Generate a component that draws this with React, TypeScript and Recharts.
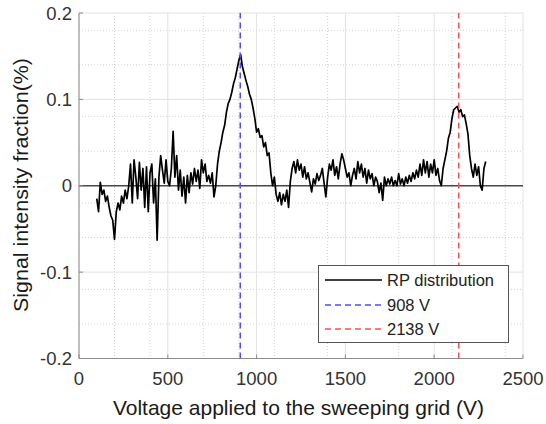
import { LineChart, Line, XAxis, YAxis, CartesianGrid, ReferenceLine, Legend } from "recharts";

// sampling grid of the sweep (V)
const VOLTAGE_START = 100;
const VOLTAGE_STEP = 10;

// signal intensity fraction (%), one value per 10 V from 100 V to 2290 V
const RP_FRACTION = [
  -0.015, -0.03, 0.004, -0.01, -0.005, -0.018, -0.012, -0.025, -0.035, -0.04,
  -0.062, -0.03, -0.02, -0.028, -0.012, -0.02, -0.005, -0.015, 0.0, 0.025,
  -0.02, 0.03, 0.01, -0.015, 0.027, -0.005, 0.02, -0.025, 0.022, -0.03,
  0.015, 0.025, -0.02, 0.008, -0.063, 0.01, 0.035, 0.018, 0.003, 0.03,
  0.005, 0.0, 0.02, 0.063, 0.01, 0.035, -0.005, 0.018, -0.012, 0.01,
  -0.02, 0.012, -0.008, 0.015, 0.002, 0.02, 0.005, 0.018, -0.003, 0.03,
  0.015, 0.025, 0.005, 0.012, 0.003, 0.015, -0.013, 0.0, 0.025, 0.04,
  0.05, 0.062, 0.07, 0.085, 0.095, 0.1, 0.108, 0.118, 0.125, 0.135,
  0.145, 0.152, 0.138, 0.13, 0.122, 0.115, 0.106, 0.1, 0.09, 0.078,
  0.062, 0.066, 0.056, 0.058, 0.045, 0.05, 0.035, 0.038, 0.015, 0.0,
  0.01, -0.01, -0.018, -0.008, -0.022, -0.01, -0.018, -0.005, -0.025, 0.005,
  0.02, 0.028, 0.015, 0.03, 0.018, 0.025, 0.01, 0.022, 0.008, 0.015,
  0.004, -0.007, 0.008, 0.002, 0.014, 0.006, 0.012, 0.02, 0.003, -0.013,
  0.01, 0.025, 0.018, 0.03, 0.012, 0.022, 0.008, 0.025, 0.037, 0.03,
  0.02, 0.01, 0.015, 0.0, 0.012, 0.02, 0.008, 0.028, 0.015, 0.025,
  0.01, 0.02, 0.003, 0.018, 0.008, 0.014, 0.0, 0.01, 0.005, -0.008,
  0.003, -0.017, 0.01, 0.0, 0.008, 0.002, 0.01, 0.0, 0.006, 0.0,
  0.014, 0.002, 0.008, 0.0, 0.01, 0.003, 0.012, 0.005, 0.015, 0.008,
  0.018, 0.01, 0.025, 0.012, 0.03, 0.015, 0.028, 0.01, 0.025, 0.015,
  0.03, 0.012, 0.02, 0.006, 0.0, 0.02, 0.03, 0.04, 0.055, 0.062,
  0.078, 0.088, 0.09, 0.092, 0.085, 0.088, 0.08, 0.082, 0.072, 0.06,
  0.035, 0.02, 0.01, 0.025, 0.012, 0.022, 0.0, -0.005, 0.02, 0.028,
];

const PEAK_VOLTAGES = [908, 2138];
const X_TICKS = [0, 500, 1000, 1500, 2000, 2500];
const Y_TICKS = [-0.2, -0.1, 0, 0.1, 0.2];
const LEGEND_LABELS = ["RP distribution", "908 V", "2138 V"];

const X_TITLE = "Voltage applied to the sweeping grid (V)";
const Y_TITLE = "Signal intensity fraction(%)";

const FONT = "'Liberation Sans', Arial, sans-serif";
const PEAK_COLORS = ["#4d4dff", "#ff4d4d"];
const BOX = "#8c8c8c";

const data = RP_FRACTION.map((v, i) => ({ voltage: VOLTAGE_START + i * VOLTAGE_STEP, fraction: v }));

// minor grid every 100 V / 0.02
const minorX = Array.from({ length: 26 }, (_, i) => i * 100).filter((v) => v % 500 !== 0);
const minorY = Array.from({ length: 21 }, (_, i) => Math.round((-0.2 + i * 0.02) * 100) / 100).filter(
  (v) => Math.abs(Math.round(v * 10) - v * 10) > 1e-6
);

const tickStyle = { fontSize: 18.5, fill: "#333", fontFamily: FONT };

function LegendBox() {
  const styles = [
    { color: "#000", dash: undefined },
    { color: PEAK_COLORS[0], dash: "6 4" },
    { color: PEAK_COLORS[1], dash: "6 4" },
  ];
  return (
    <div
      style={{
        position: "relative",
        width: 191,
        height: 78,
        boxSizing: "border-box",
        border: "1.2px solid #555",
        background: "#fff",
        fontFamily: FONT,
      }}
    >
      {LEGEND_LABELS.map((label, i) => (
        <div key={label} style={{ position: "absolute", left: 0, top: 2 + i * 24.5, height: 24, width: 191 }}>
          <svg width={60} height={24} style={{ position: "absolute", left: 6, top: 0 }}>
            <line x1={0} x2={57} y1={12} y2={12} stroke={styles[i].color} strokeWidth={1.4} strokeDasharray={styles[i].dash} />
          </svg>
          <span style={{ position: "absolute", left: 68, top: 0, lineHeight: "24px", fontSize: 16.5, color: "#222", whiteSpace: "nowrap" }}>
            {label}
          </span>
        </div>
      ))}
    </div>
  );
}

export default function App() {
  return (
    <div style={{ position: "absolute", left: 0, top: 0, width: 546, height: 424, background: "#fff" }}>
      <LineChart width={546} height={424} data={data} margin={{ top: 13, right: 23, bottom: 0, left: 0 }}>
        <CartesianGrid verticalValues={minorX} horizontalValues={minorY} stroke="#d2d2d2" strokeDasharray="1 2" />
        <CartesianGrid verticalValues={X_TICKS} horizontalValues={Y_TICKS} stroke="#e2e2e2" />
        <XAxis
          dataKey="voltage"
          type="number"
          domain={[0, 2500]}
          ticks={X_TICKS}
          height={65.5}
          stroke={BOX}
          tickSize={-4}
          tickMargin={17.5}
          tick={tickStyle}
          label={{
            content: () => (
              <text x={298.5} y={415} textAnchor="middle" fontSize={21} fill="#1a1a1a" fontFamily={FONT}>
                {X_TITLE}
              </text>
            ),
          }}
        />
        <XAxis xAxisId="top" orientation="top" type="number" domain={[0, 2500]} ticks={X_TICKS} height={0} tick={false} tickSize={-4} stroke={BOX} />
        <YAxis
          type="number"
          domain={[-0.2, 0.2]}
          ticks={Y_TICKS}
          width={79}
          stroke={BOX}
          tickSize={-4}
          tickMargin={11}
          tick={tickStyle}
          tickFormatter={(v: number) => (v === 0 ? "0" : v.toFixed(1))}
          label={{
            content: () => (
              <text
                x={28}
                y={185}
                transform="rotate(-90 28 185)"
                textAnchor="middle"
                fontSize={21}
                fill="#1a1a1a"
                fontFamily={FONT}
                textLength={254}
                lengthAdjust="spacingAndGlyphs"
              >
                {Y_TITLE}
              </text>
            ),
          }}
        />
        <YAxis yAxisId="right" orientation="right" type="number" domain={[-0.2, 0.2]} ticks={Y_TICKS} width={0} tick={false} tickSize={-4} stroke={BOX} />
        <ReferenceLine y={0} stroke="#4a4a4a" strokeWidth={1.5} />
        <Line
          type="linear"
          dataKey="fraction"
          name={LEGEND_LABELS[0]}
          stroke="#000"
          strokeWidth={1.7}
          strokeLinejoin="round"
          dot={false}
          isAnimationActive={false}
        />
        {PEAK_VOLTAGES.map((v, i) => (
          <ReferenceLine key={v} x={v} stroke={PEAK_COLORS[i]} strokeWidth={1.5} strokeDasharray="6 4" />
        ))}
        <Legend
          layout="vertical"
          align="center"
          verticalAlign="middle"
          wrapperStyle={{ left: 318, top: 265, width: 191, height: 78 }}
          content={() => <LegendBox />}
        />
      </LineChart>
    </div>
  );
}
